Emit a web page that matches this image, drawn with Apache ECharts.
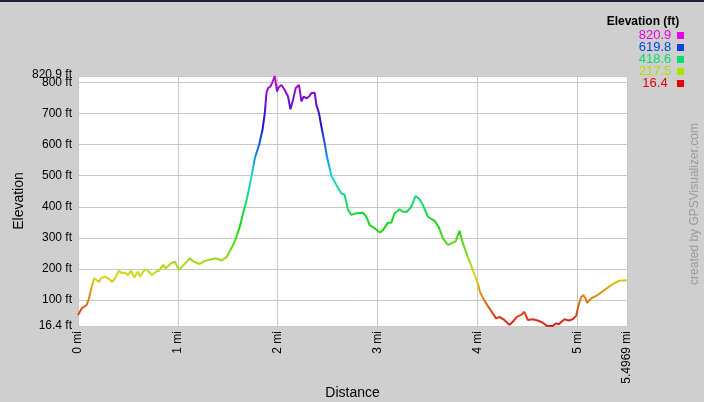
<!DOCTYPE html>
<html>
<head>
<meta charset="utf-8">
<script src="https://cdn.jsdelivr.net/npm/echarts@6/dist/echarts.min.js"></script>
<style>
html,body{margin:0;padding:0;background:#cfcfcf;}
#chart{width:704px;height:402px;}
</style>
</head>
<body>
<div id="chart"></div>
<script>
// distance in miles
const distance = [0.00,0.037,0.087,0.11,0.137,0.163,0.187,0.213,0.23,0.27,0.30,0.343,0.37,0.41,0.437,0.47,0.50,0.53,0.563,0.60,0.62,0.67,0.71,0.74,0.78,0.81,0.853,0.88,0.93,0.97,1.01,1.05,1.12,1.16,1.22,1.27,1.337,1.38,1.437,1.49,1.51,1.553,1.587,1.62,1.653,1.687,1.71,1.737,1.77,1.813,1.847,1.87,1.887,1.903,1.927,1.943,1.97,1.993,2.01,2.037,2.07,2.103,2.127,2.153,2.18,2.213,2.237,2.26,2.287,2.313,2.337,2.37,2.387,2.413,2.437,2.47,2.493,2.537,2.587,2.637,2.67,2.703,2.737,2.787,2.853,2.887,2.92,2.97,3.02,3.053,3.103,3.137,3.17,3.22,3.253,3.293,3.337,3.38,3.42,3.453,3.503,3.57,3.613,3.653,3.703,3.747,3.78,3.82,3.853,3.903,3.953,4.003,4.027,4.07,4.103,4.153,4.187,4.22,4.26,4.32,4.353,4.393,4.437,4.47,4.503,4.553,4.603,4.653,4.693,4.753,4.787,4.813,4.87,4.913,4.953,4.987,5.013,5.037,5.06,5.08,5.097,5.137,5.203,5.27,5.32,5.37,5.42,5.4969];
// elevation in feet
const elevation = [52,73,84,105,143,170,164,159,170,175,170,159,170,194,187,188,180,194,173,191,175,199,191,180,191,194,213,202,218,223,197,210,234,223,216,226,231,234,227,239,245,277,304,336,379,420,454,497,556,599,647,701,766,782,787,798,820.9,771,785,792,776,755,714,744,782,792,739,755,749,755,766,767,728,701,658,604,561,500,470,443,438,390,374,379,381,368,341,331,317,325,349,349,379,392,384,384,400,435,424,406,368,355,334,299,277,284,288,323,283,239,197,154,124,98,81,57,41,46,38,20,30,46,52,62,36,38,34,27,17,16.4,25,22,38,34,38,49,84,109,116,106,91,105,116,132,143,154,162,164];

const elevMin = 16.4, elevMax = 820.9, distMax = 5.4969;
const legendTitle = 'Elevation (ft)';
const legendValues = ['820.9','619.8','418.6','217.5','16.4'];
const legendColors = ['#e600e6','#0046e6','#00e070','#aee000','#e60000'];
const lineColors = ['#d91616','#d97716','#d9d916','#77d916','#16d916','#16d977','#16d9d9','#1677d9','#1616d0','#7010c8','#c010d0'];

const FONT = '"Liberation Sans", Arial, sans-serif';
const chart = echarts.init(document.getElementById('chart'));

const graphics = [
  {type:'rect', x:0, y:0, shape:{width:704, height:2}, style:{fill:'#1e2040'}, silent:true},
  {type:'text', x:643, y:22, style:{text:legendTitle, font:'bold 12px ' + FONT, fill:'#000', textAlign:'center', textVerticalAlign:'middle'}},
  {type:'text', x:695, y:204, rotation:Math.PI/2, style:{text:'created by GPSVisualizer.com', font:'12px ' + FONT, fill:'#9a9a9a', textAlign:'center', textVerticalAlign:'middle'}, silent:true}
];
legendValues.forEach((v, i) => {
  graphics.push({type:'text', x:655, y:35 + i*12, style:{text:v, font:'13px ' + FONT, fill:legendColors[i], textAlign:'center', textVerticalAlign:'middle'}});
  graphics.push({type:'rect', x:677, y:32 + i*12, shape:{width:7, height:7}, style:{fill:legendColors[i]}});
});

const yLabelStyle = {margin:6, fontSize:12, color:'#000', fontFamily:FONT};

chart.setOption({
  backgroundColor:'#cfcfcf',
  animation:false,
  textStyle:{fontFamily:FONT},
  grid:{left:78, top:76, width:549, height:250, backgroundColor:'#fff', show:true, borderWidth:0, outerBoundsMode:'none', containLabel:false},
  graphic: graphics,
  visualMap:{type:'continuous', show:false, dimension:1, seriesIndex:0, min:elevMin, max:elevMax, inRange:{color:lineColors}},
  xAxis:{
    type:'value', min:0, max:distMax, splitNumber:5,
    name:'Distance', nameLocation:'middle', nameGap:60, nameMoveOverlap:false,
    nameTextStyle:{fontSize:14, color:'#000', fontFamily:FONT},
    axisLine:{show:false}, axisTick:{show:false},
    axisLabel:{rotate:90, margin:5, fontSize:12, color:'#000', fontFamily:FONT,
      formatter:v => (+v.toFixed(4)) + ' mi', showMinLabel:true, showMaxLabel:true},
    splitLine:{show:true, lineStyle:{color:'#c8c8c8', width:1}}
  },
  yAxis:[{
    type:'value', min:elevMin, max:elevMax, splitNumber:8,
    name:'Elevation', nameLocation:'middle', nameGap:52, nameRotate:90, nameMoveOverlap:false,
    nameTextStyle:{fontSize:14, color:'#000', fontFamily:FONT},
    axisLine:{show:false}, axisTick:{show:false},
    axisLabel:Object.assign({}, yLabelStyle, {formatter:v => (+v.toFixed(1)) + ' ft', showMinLabel:true, showMaxLabel:false}),
    splitLine:{show:true, lineStyle:{color:'#c8c8c8', width:1}}
  },{
    type:'value', position:'left', min:elevMin, max:elevMax, interval:elevMax - elevMin,
    axisLine:{show:false}, axisTick:{show:false}, splitLine:{show:false},
    axisLabel:Object.assign({}, yLabelStyle, {verticalAlign:'bottom', lineHeight:2,
      formatter:v => Math.abs(v - elevMax) < 1e-6 ? (+v.toFixed(1)) + ' ft' : '', showMinLabel:true, showMaxLabel:true})
  }],
  series:[{
    type:'line', data: distance.map((d,i) => [d, elevation[i]]),
    showSymbol:false, symbol:'none', smooth:false,
    lineStyle:{width:2}
  }]
});
</script>
</body>
</html>
